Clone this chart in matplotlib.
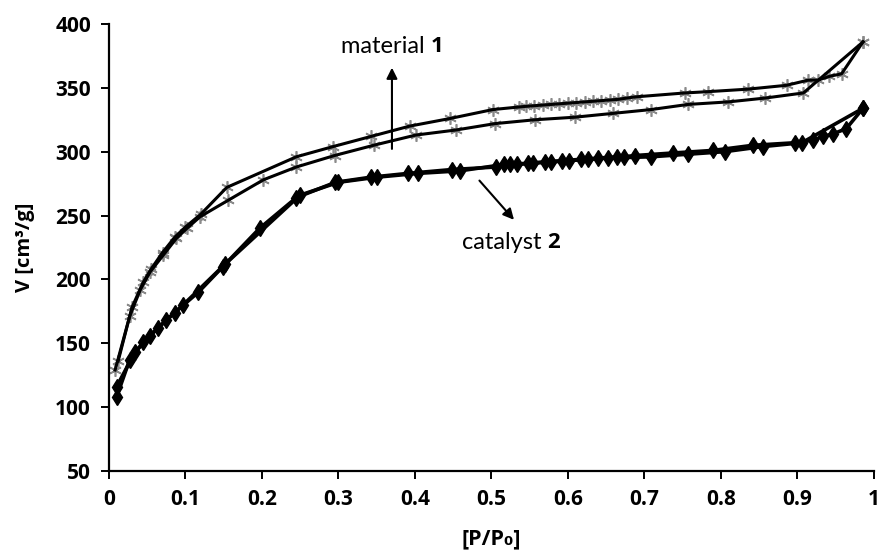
import matplotlib
matplotlib.use("Agg")
import matplotlib.pyplot as plt

plt.rcParams['font.family'] = ['Lato', 'DejaVu Sans']
bold_font = ['Open Sans', 'DejaVu Sans']

# material 1 - adsorption branch
m1_ads_x = [0.008, 0.027, 0.041, 0.054, 0.071, 0.088, 0.102, 0.119, 0.156, 0.202,
            0.245, 0.295, 0.346, 0.401, 0.454, 0.505, 0.557, 0.609, 0.659, 0.709,
            0.757, 0.810, 0.858, 0.908, 0.986]
m1_ads_v = [129, 171, 192, 206, 219, 232, 240, 249, 262, 278,
            288, 297, 305, 313, 317, 322, 325, 327, 330, 333,
            337, 339, 342, 346, 386]

# material 1 - desorption branch
m1_des_x = [0.986, 0.958, 0.942, 0.927, 0.914, 0.886, 0.836, 0.783, 0.753, 0.690,
            0.677, 0.666, 0.655, 0.644, 0.633, 0.622, 0.611, 0.600, 0.589, 0.578,
            0.567, 0.556, 0.545, 0.536, 0.502, 0.446, 0.393, 0.343, 0.293, 0.245,
            0.154, 0.120, 0.100, 0.086, 0.070, 0.055, 0.045, 0.030, 0.012]
m1_des_v = [386, 361, 359, 356, 356, 352, 349, 347, 346, 343,
            342, 341, 340.5, 340, 339.5, 339, 338.5, 338, 337.5, 337,
            336.5, 336, 335.5, 335, 333, 326, 320, 312, 304, 296,
            272, 251, 241, 233, 221, 208, 198, 178, 136]

# catalyst 2 - adsorption branch
c2_ads_x = [0.010, 0.027, 0.045, 0.064, 0.086, 0.117, 0.149, 0.197, 0.245, 0.296,
            0.342, 0.391, 0.448, 0.506, 0.533, 0.555, 0.578, 0.602, 0.627, 0.652,
            0.709, 0.757, 0.805, 0.855, 0.906, 0.986]
c2_ads_v = [108, 137, 151, 162, 174, 190, 210, 240, 264, 276,
            280, 283, 286, 288, 290, 291, 292, 293, 294, 295,
            296, 298, 300, 304, 307, 334]

# catalyst 2 - desorption branch
c2_des_x = [0.986, 0.964, 0.947, 0.934, 0.921, 0.897, 0.842, 0.790, 0.738, 0.688,
            0.673, 0.664, 0.640, 0.617, 0.593, 0.570, 0.548, 0.525, 0.517, 0.459,
            0.404, 0.350, 0.300, 0.250, 0.152, 0.097, 0.075, 0.054, 0.034, 0.010]
c2_des_v = [334, 318, 314, 312, 309, 307, 305, 301, 299, 297,
            296, 296, 295, 294, 293, 292, 291, 290, 290, 285,
            283, 280, 276, 266, 212, 180, 168, 156, 143, 116]

x_ticks = [0, 0.1, 0.2, 0.3, 0.4, 0.5, 0.6, 0.7, 0.8, 0.9, 1]
x_tick_labels = ["0", "0.1", "0.2", "0.3", "0.4", "0.5", "0.6", "0.7", "0.8", "0.9", "1"]
y_ticks = [50, 100, 150, 200, 250, 300, 350, 400]

fig = plt.figure(figsize=(8.79, 5.52), dpi=100)
ax = fig.add_axes([0.124, 0.147, 0.870, 0.8095])

star = (6, 2, 0)
for xs, vs in [(m1_ads_x, m1_ads_v), (m1_des_x, m1_des_v)]:
    ax.plot(xs, vs, linestyle="none", marker=star, markersize=9,
            markeredgecolor="#8a8a8a", markeredgewidth=1.2, zorder=2)
    ax.plot(xs, vs, color="black", linewidth=2.2, zorder=3)

for xs, vs in [(c2_ads_x, c2_ads_v), (c2_des_x, c2_des_v)]:
    ax.plot(xs, vs, color="black", linewidth=2.6, marker="d", markersize=8,
            markerfacecolor="black", markeredgecolor="black", zorder=3)

ax.set_xlim(0, 1)
ax.set_ylim(50, 400)
ax.set_xticks(x_ticks)
ax.set_xticklabels(x_tick_labels)
ax.set_yticks(y_ticks)
for s in ["top", "right"]:
    ax.spines[s].set_visible(False)
for s in ["left", "bottom"]:
    ax.spines[s].set_linewidth(1.6)
ax.tick_params(direction="out", length=6, width=1.4, pad=7)
for lab in ax.get_xticklabels() + ax.get_yticklabels():
    lab.set_fontfamily(bold_font)
    lab.set_fontweight("bold")
    lab.set_fontsize(15)

ax.set_xlabel("[P/P₀]", fontsize=15.5, fontweight="bold", family=bold_font)
ax.set_ylabel("V [cm³/g]", fontsize=14.5, fontweight="bold", family=bold_font)
ax.xaxis.set_label_coords(0.5, -0.128)
ax.yaxis.set_label_coords(-0.097, 0.5)

# annotations
t1 = ax.text(0.303, 382, "material ", fontsize=17, va="center", ha="left")
ax.annotate("1", xy=(1, 0.5), xycoords=t1, va="center", ha="left",
            fontsize=16, fontweight="bold", family=bold_font)
ax.annotate("", xy=(0.370, 368), xytext=(0.370, 300),
            arrowprops=dict(arrowstyle="-|>", color="black", lw=1.5, mutation_scale=16))

t2 = ax.text(0.461, 228.5, "catalyst ", fontsize=17, va="center", ha="left")
ax.annotate("2", xy=(1, 0.5), xycoords=t2, va="center", ha="left",
            fontsize=16, fontweight="bold", family=bold_font)
ax.annotate("", xy=(0.532, 245), xytext=(0.482, 279),
            arrowprops=dict(arrowstyle="-|>", color="black", lw=1.5, mutation_scale=16))

plt.savefig("out.png", dpi=100)
